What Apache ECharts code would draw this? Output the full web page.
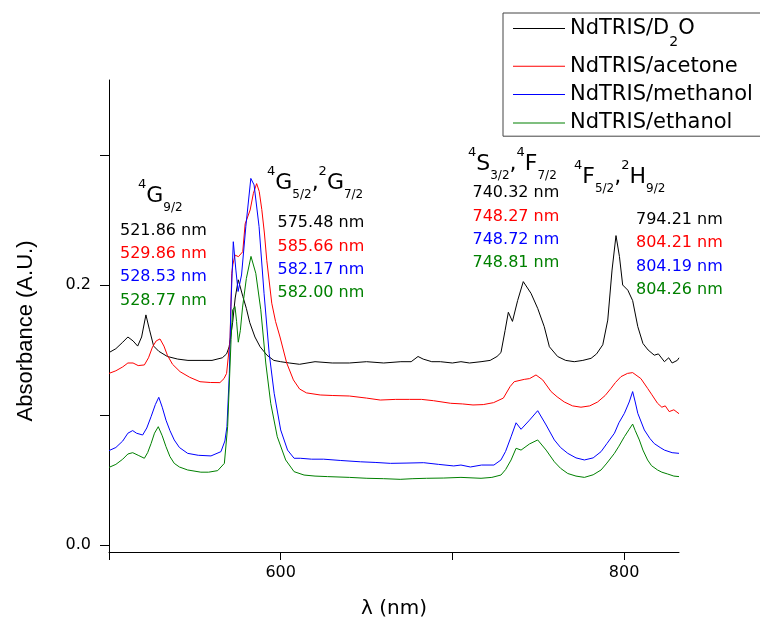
<!DOCTYPE html>
<html lang="en">
<head>
<meta charset="utf-8" />
<style>
  html, body { margin: 0; width: 100%; height: 100%; background: #fff; }
  #container { width: 760px; height: 627px; }
</style>
<script src="https://cdn.jsdelivr.net/npm/echarts@6/dist/echarts.min.js"></script>
</head>
<body>
<div id="container"></div>
<script>
// spectra, [wavelength nm, absorbance]
var d2o = [[500,0.148],[504,0.151],[508,0.156],[511,0.160],[514,0.157],[516.7,0.153],[519,0.160],[521.5,0.177],[523.5,0.166],[526,0.153],[529,0.149],[534,0.145],[540,0.143],[546,0.142],[553.6,0.142],[560,0.142],[566,0.144],[568.5,0.147],[570,0.1525],[572,0.171],[573.5,0.190],[575.3,0.204],[578,0.191],[580,0.182],[582,0.171],[585,0.160],[588,0.1525],[592,0.146],[596,0.142],[600,0.141],[605,0.140],[611,0.139],[620,0.141],[630,0.140],[640,0.140],[650,0.141],[660,0.140],[670,0.141],[676,0.141],[680,0.145],[683,0.143],[688,0.141],[693,0.141],[700,0.140],[705,0.141],[710,0.140],[716.7,0.141],[722,0.142],[726,0.145],[728.3,0.148],[730.7,0.165],[732.6,0.179],[735,0.172],[738,0.188],[741.3,0.2026],[745.8,0.1936],[749.7,0.182],[753.5,0.168],[756.5,0.1525],[761.3,0.145],[766,0.142],[771,0.141],[776,0.142],[780.8,0.1436],[784,0.147],[787.6,0.154],[790.5,0.173],[793,0.2115],[795.3,0.238],[797.3,0.222],[799.2,0.200],[802.2,0.196],[805,0.188],[808,0.168],[811,0.155],[814,0.150],[817.6,0.146],[820,0.147],[823.5,0.141],[826,0.144],[828,0.140],[831,0.142],[832,0.144]];
var acetone = [[500,0.132],[504,0.134],[508,0.137],[511,0.140],[514,0.140],[517,0.138],[520.6,0.1385],[523,0.144],[525.4,0.1525],[527.5,0.157],[529.7,0.1585],[532,0.153],[534,0.146],[537,0.139],[541.4,0.1333],[547,0.129],[553,0.1256],[559,0.125],[564.6,0.1249],[567,0.128],[568.5,0.132],[570.5,0.158],[571.5,0.209],[572.2,0.216],[573.4,0.223],[575.4,0.2218],[577.9,0.2256],[579.3,0.247],[582.2,0.2577],[584.1,0.2705],[586,0.278],[587.5,0.272],[589,0.258],[590.5,0.240],[591.9,0.219],[594.8,0.186],[597,0.172],[599.6,0.160],[603.5,0.140],[607.4,0.127],[611,0.120],[615,0.117],[623,0.1154],[630,0.115],[640,0.1146],[650,0.113],[658,0.1115],[667,0.112],[675,0.112],[682,0.112],[689,0.111],[699,0.109],[706,0.1085],[712,0.1077],[718,0.108],[724,0.1095],[729.7,0.113],[733.6,0.1218],[736,0.1256],[741.9,0.1274],[745,0.128],[748.7,0.1308],[752.6,0.127],[757.5,0.118],[761,0.114],[765.2,0.110],[770,0.107],[774.9,0.106],[780,0.107],[784.6,0.110],[789,0.115],[792.4,0.1205],[795,0.125],[798.2,0.1295],[802,0.132],[805,0.1326],[809.8,0.128],[813.7,0.1205],[816,0.116],[819.5,0.109],[822,0.106],[824,0.107],[826.3,0.1026],[829,0.104],[832,0.101]];
var methanol = [[500,0.0726],[504,0.075],[508,0.080],[511,0.086],[513.8,0.088],[516,0.086],[519.6,0.0846],[522,0.090],[524.5,0.0987],[527,0.108],[529,0.1136],[531,0.106],[533.2,0.096],[535.5,0.088],[538,0.0808],[541,0.075],[545.8,0.0705],[552,0.069],[559.4,0.0685],[565.2,0.0718],[567.5,0.080],[568.7,0.091],[570.1,0.132],[571,0.1833],[572.4,0.2333],[573.9,0.2115],[575.2,0.195],[577.2,0.2077],[579.7,0.245],[582.6,0.282],[584.5,0.277],[587.4,0.245],[590.3,0.1936],[593.3,0.1474],[596.2,0.1167],[600,0.0885],[604,0.073],[607.8,0.0667],[611.4,0.0667],[618,0.066],[625,0.066],[635,0.065],[646.4,0.064],[655,0.0635],[663.9,0.0628],[673,0.063],[683.3,0.0633],[692,0.062],[700.8,0.0608],[705,0.0615],[710.5,0.060],[717,0.0615],[724.2,0.0615],[728.3,0.0654],[731,0.072],[734.2,0.0833],[737.1,0.094],[740,0.089],[744.9,0.096],[749.7,0.1033],[754.6,0.0923],[759.4,0.0808],[763,0.075],[767.2,0.0705],[772,0.067],[776.9,0.0654],[782,0.067],[786.6,0.0718],[790,0.078],[794.4,0.086],[797,0.094],[800.2,0.1013],[803,0.110],[805,0.118],[806.5,0.110],[808,0.1013],[811.8,0.0885],[815,0.082],[817.6,0.078],[821,0.075],[823.5,0.073],[828,0.071],[832,0.0705]];
var ethanol = [[500,0.0597],[504,0.062],[508,0.066],[511,0.070],[513.8,0.071],[517,0.069],[520.6,0.0667],[522.5,0.071],[524.5,0.078],[526.5,0.086],[528.7,0.091],[531,0.084],[533.2,0.0756],[535.5,0.068],[538,0.0628],[541,0.060],[545.8,0.0577],[553.5,0.056],[558,0.056],[563.3,0.0572],[567.2,0.0628],[569.1,0.091],[571.1,0.158],[572,0.1808],[573.4,0.1833],[574.3,0.172],[575.3,0.156],[576.5,0.165],[577.8,0.183],[580,0.205],[582.7,0.222],[585.5,0.209],[588.4,0.181],[591.3,0.140],[594.2,0.109],[598,0.0833],[602.9,0.0654],[607.8,0.0564],[613.6,0.0538],[620,0.053],[627.2,0.0526],[640,0.052],[650.2,0.0513],[660,0.051],[669.6,0.0505],[677,0.051],[685,0.0513],[695,0.0515],[705,0.052],[716.7,0.0513],[723,0.052],[728.3,0.0538],[731,0.058],[734.2,0.0654],[737.1,0.0744],[740,0.073],[744.9,0.0777],[749.7,0.0808],[754.6,0.073],[759.4,0.064],[763,0.059],[767.2,0.055],[772,0.053],[776.9,0.052],[782,0.054],[786.6,0.0577],[790,0.063],[794.4,0.0705],[797,0.076],[800.2,0.0833],[803,0.089],[805,0.093],[806.5,0.088],[808.9,0.0808],[811,0.073],[813.7,0.0654],[816,0.061],[819.5,0.0577],[822,0.056],[825.4,0.0546],[829,0.053],[832,0.0526]];

var seriesNames = ['NdTRIS/D2O', 'NdTRIS/acetone', 'NdTRIS/methanol', 'NdTRIS/ethanol'];
var seriesColors = ['#000000', '#ff0000', '#0000ff', '#008000'];

var xTicks = [500, 600, 700, 800];
var xLabels = [600, 800];
var yTicks = [0, 0.1, 0.2, 0.3];
var yLabels = [0, 0.2];

// peak positions per band, same order as the series
var band1 = ['521.86 nm', '529.86 nm', '528.53 nm', '528.77 nm'];
var band2 = ['575.48 nm', '585.66 nm', '582.17 nm', '582.00 nm'];
var band3 = ['740.32 nm', '748.27 nm', '748.72 nm', '748.81 nm'];
var band4 = ['794.21 nm', '804.21 nm', '804.19 nm', '804.26 nm'];

var FONT = 'DejaVu Sans';
var chart = echarts.init(document.getElementById('container'));

// term symbols: p = superscript, m = letter, b = subscript
var headRich = {
  m: { fontSize: 22, fontFamily: FONT, lineHeight: 36, fill: '#000' },
  p: { fontSize: 13, fontFamily: FONT, verticalAlign: 'top', fill: '#000' },
  b: { fontSize: 12, fontFamily: FONT, verticalAlign: 'bottom', fill: '#000' }
};
var numRich = {};
['k', 'r', 'u', 'g'].forEach(function (key, i) {
  numRich[key] = { fontSize: 16, fontFamily: FONT, lineHeight: 23.3, fill: seriesColors[i] };
});

function header(x, y, txt) {
  return { type: 'text', left: x, top: y, style: { text: txt, rich: headRich } };
}
function numbers(x, y, arr) {
  var keys = ['k', 'r', 'u', 'g'];
  var txt = arr.map(function (s, i) { return '{' + keys[i] + '|' + s + '}'; }).join('\n');
  return { type: 'text', left: x, top: y, style: { text: txt, rich: numRich } };
}

var datasets = [d2o, acetone, methanol, ethanol];

var option = {
  animation: false,
  backgroundColor: '#fff',
  grid: { left: 109, right: 81, top: 80, bottom: 75 },
  legend: [
    {
      data: [seriesNames[0]],
      orient: 'vertical', left: 503, top: 18, padding: [0, 0, 0, 10],
      icon: 'rect', itemWidth: 52, itemHeight: 1,
      formatter: function () { return '{a|NdTRIS/D}{s|2}{a|O}'; },
      textStyle: {
        rich: {
          a: { fontSize: 21, fontFamily: FONT, lineHeight: 22, color: '#000' },
          s: { fontSize: 14, fontFamily: FONT, padding: [28, 0, 0, 0], color: '#000' }
        }
      }
    },
    {
      data: seriesNames.slice(1),
      orient: 'vertical', left: 503, top: 13, padding: [42, 12, 2, 10],
      icon: 'rect', itemWidth: 52, itemHeight: 1, itemGap: 6,
      borderColor: '#444', borderWidth: 1,
      textStyle: { fontSize: 21, fontFamily: FONT, lineHeight: 22.4, color: '#000' }
    }
  ],
  xAxis: {
    type: 'value', min: 500, max: 832,
    name: 'λ (nm)', nameLocation: 'middle', nameGap: 47,
    nameTextStyle: { fontSize: 20, fontFamily: FONT, color: '#000' },
    axisLine: { onZero: false, lineStyle: { color: '#000', width: 1 } },
    axisTick: { customValues: xTicks, length: 8, lineStyle: { color: '#000' } },
    axisLabel: { customValues: xLabels, margin: 13, fontSize: 16, fontFamily: FONT, color: '#000' },
    splitLine: { show: false }
  },
  yAxis: {
    type: 'value', min: -0.0054, max: 0.3577,
    name: 'Absorbance (A.U.)', nameLocation: 'middle', nameGap: 72,
    nameTextStyle: { fontSize: 22, fontFamily: 'Liberation Sans', color: '#000', padding: [0, 30, 0, 0] },
    axisLine: { onZero: false, lineStyle: { color: '#000', width: 1 } },
    axisTick: { customValues: yTicks, length: 9, lineStyle: { color: '#000' } },
    axisLabel: {
      customValues: yLabels, margin: 18, fontSize: 16, fontFamily: FONT, color: '#000',
      formatter: function (v) { return v.toFixed(1); }
    },
    splitLine: { show: false }
  },
  series: datasets.map(function (d, i) {
    return {
      name: seriesNames[i], type: 'line', data: d,
      symbol: 'none', color: seriesColors[i],
      lineStyle: { width: 1, color: seriesColors[i] }
    };
  }),
  graphic: [
    header(138, 178, '{p|4}{m|G}{b|9/2}'),
    header(267, 165, '{p|4}{m|G}{b|5/2}{m|,}{p|2}{m|G}{b|7/2}'),
    header(468, 146, '{p|4}{m|S}{b|3/2}{m|,}{p|4}{m|F}{b|7/2}'),
    header(574, 159, '{p|4}{m|F}{b|5/2}{m|,}{p|2}{m|H}{b|9/2}'),
    numbers(120, 222.7, band1),
    numbers(277.5, 215.3, band2),
    numbers(472.5, 185.3, band3),
    numbers(636, 212, band4)
  ]
};
chart.setOption(option);
</script>
</body>
</html>
